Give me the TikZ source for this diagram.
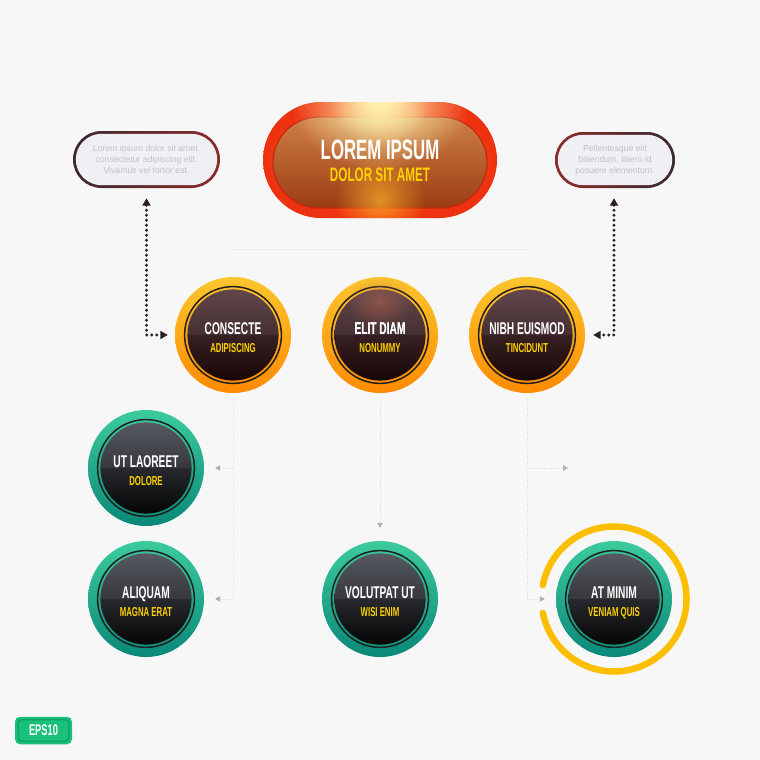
\documentclass[tikz,border=0pt]{standalone}
\usepackage{fontspec}
\setmainfont{Liberation Sans}
\newfontfamily\condfont[FakeStretch=0.6]{Liberation Sans}
\usetikzlibrary{arrows.meta,fadings}
\tikzfading[name=glowfade, inner color=transparent!0, outer color=transparent!100]
\definecolor{bg}{HTML}{F7F7F8}
\definecolor{OrTop}{HTML}{FDC62E}
\definecolor{OrBot}{HTML}{FF8A00}
\definecolor{GrTop}{HTML}{3CCB9D}
\definecolor{GrBot}{HTML}{0A8878}
\definecolor{DkOTop}{HTML}{55393E}
\definecolor{DkOBot}{HTML}{180707}
\definecolor{DkGTop}{HTML}{4A4D56}
\definecolor{DkGBot}{HTML}{050505}
\definecolor{YelTxt}{HTML}{FFD200}
\definecolor{RingY}{HTML}{FBBF00}
\definecolor{FaintC}{HTML}{DADCE2}
\definecolor{TipC}{HTML}{A9B0BD}
\definecolor{TipPink}{HTML}{E3A6B4}
\definecolor{DotC}{HTML}{2A2025}
\definecolor{BoxFill}{HTML}{EFEFF4}
\definecolor{BoxTxt}{HTML}{C2C0CA}
\definecolor{BoxDark}{HTML}{3A2A31}
\definecolor{BoxRed}{HTML}{8C2B2B}
\definecolor{PillRed}{HTML}{EE3210}
\definecolor{PillOr}{HTML}{FF8A1A}
\definecolor{PillInTop}{HTML}{CF8048}
\definecolor{PillInBot}{HTML}{9A3C12}
\definecolor{PillLine}{HTML}{C22A10}
\definecolor{GlowA}{HTML}{FFF4B0}
\definecolor{GlowB}{HTML}{FFB22A}
\definecolor{GlowC}{HTML}{B8654E}
\definecolor{EpsG}{HTML}{19C07A}
\definecolor{EpsD}{HTML}{10A262}

\newcommand\orbbase[9]{%
  \shade[top color=#4, bottom color=#5] (#2,#3) circle (58);
  \draw[line width=1.5, black!88] (#2,#3) circle (48.4);
  \shade[top color=#6, bottom color=#7] (#2,#3) circle (45.6);
  \fill[white, opacity=0.07] (#2-45.6,#3) arc[start angle=180, end angle=360, radius=45.6] -- cycle;
  \node[circle, minimum size=116, inner sep=0] (#1) at (#2,#3) {};
  \node[lineone] at (#2,#3-6.5) {#8};
  \node[linetwo] at (#2,#3+12.8) {#9};
}
\newcommand\orangeorb[5]{\orbbase{#1}{#2}{#3}{OrTop}{OrBot}{DkOTop}{DkOBot}{#4}{#5}}
\newcommand\greenorb[5]{\orbbase{#1}{#2}{#3}{GrTop}{GrBot}{DkGTop}{DkGBot}{#4}{#5}}

\begin{document}
\begin{tikzpicture}[x=1pt,y=-1pt,
  lineone/.style={font=\condfont\bfseries\fontsize{17}{17}\selectfont, text=white, inner sep=0, text depth=0pt},
  linetwo/.style={font=\condfont\bfseries\fontsize{13}{13}\selectfont, text=YelTxt, inner sep=0, text depth=0pt},
  boxtext/.style={font=\fontsize{8.7}{10.8}\selectfont, text=BoxTxt, align=center, inner sep=0},
  faint/.style={draw=FaintC, line width=0.8, dash pattern=on 0.8pt off 1.6pt},
  ftip/.style={-{Triangle[length=5pt,width=5.5pt,color=TipC]}},
  blackdots/.style={draw=DotC, line width=3.1, dash pattern=on 0pt off 5pt, line cap=round,
     {Triangle[length=7.5pt,width=8pt]}-{Triangle[length=7.5pt,width=8pt]}}
]
\useasboundingbox (0,0) rectangle (760,760);
\fill[bg] (0,0) rectangle (760,760);

% ---- top pill ----
\shade[inner color=PillOr, outer color=PillRed, rounded corners=58] (263,102) rectangle (497,218);
\shade[top color=PillInTop, bottom color=PillInBot, rounded corners=45.5] (273,117) rectangle (487,208);
\draw[PillLine, line width=1.3, rounded corners=45.5] (273,117) rectangle (487,208);
\begin{scope}
  \clip[rounded corners=58] (263,102) rectangle (497,218);
  \fill[GlowA, path fading=glowfade] (380,100) ellipse [x radius=90, y radius=70];
  \fill[GlowA, path fading=glowfade, opacity=0.8] (380,104) ellipse [x radius=50, y radius=40];
  \fill[GlowB, path fading=glowfade, opacity=0.7] (380,200) ellipse [x radius=45, y radius=45];
\end{scope}
\node[minimum width=234, minimum height=116, inner sep=0] (top) at (380,160) {};
\node[font=\condfont\bfseries\fontsize{28}{28}\selectfont, text=white, inner sep=0, text depth=0pt] at (380,150) {LOREM IPSUM};
\node[font=\condfont\bfseries\fontsize{19.5}{19.5}\selectfont, text=YelTxt, inner sep=0, text depth=0pt] at (380,175) {DOLOR SIT AMET};

% ---- side boxes ----
\shade[left color=BoxDark, right color=BoxRed, rounded corners=28.5] (73,131) rectangle (220,188);
\fill[BoxFill, rounded corners=25.8] (75.8,133.8) rectangle (217.2,185.2);
\node[boxtext, minimum width=147, minimum height=57] (lbox) at (146.5,159.5)
  {Lorem ipsum dolor sit amet,\\consectetur adipiscing elit.\\Vivamus vel tortor est.};
\shade[left color=BoxRed, right color=BoxDark, rounded corners=28] (555,132) rectangle (675,188);
\fill[BoxFill, rounded corners=25.3] (557.8,134.8) rectangle (672.2,185.2);
\node[boxtext, minimum width=120, minimum height=56] (rbox) at (615,160)
  {Pellentesque elit\\bibendum, libero id\\posuere elementum.};

% ---- orbs ----
\orangeorb{c1}{233}{335}{CONSECTE}{ADIPISCING}
\orangeorb{c2}{380}{335}{ELIT DIAM}{NONUMMY}
\fill[GlowC, path fading=glowfade, opacity=0.55] (380,302) ellipse [x radius=34, y radius=26];
\node[lineone] at (380,328.5) {ELIT DIAM};
\orangeorb{c3}{527}{335}{NIBH EUISMOD}{TINCIDUNT}

\greenorb{g1}{146}{468}{UT LAOREET}{DOLORE}
\greenorb{g2}{146}{599}{ALIQUAM}{MAGNA ERAT}
\greenorb{g3}{380}{599}{VOLUTPAT UT}{WISI ENIM}
\greenorb{g4}{614}{599}{AT MINIM}{VENIAM QUIS}
\draw[RingY, line width=6.5, line cap=round] (614,599) ++(191:72.5) arc[start angle=191, end angle=529, radius=72.5];

% ---- faint connectors ----
\draw[faint] (c1.north |- 0,249) -- (c3.north |- 0,249);
\draw[ftip, draw=none] (c1.north |- 0,258) -- (c1.north |- 0,267);
\draw[-{Triangle[length=5pt,width=5.5pt,color=TipPink]}, draw=none] (c2.north |- 0,258) -- (c2.north |- 0,267);
\draw[ftip, draw=none] (c3.north |- 0,258) -- (c3.north |- 0,267);

\draw[faint] (c1.south) ++(0,5) -- (c1.south |- g2.east);
\draw[faint, ftip, shorten >=11] (c1.south |- g1.east) -- (g1.east);
\draw[faint, ftip, shorten >=11] (c1.south |- g2.east) -- (g2.east);
\draw[faint, ftip, shorten <=5, shorten >=13] (c2.south) -- (g3.north);
\coordinate (nibhtip) at (568,468);
\draw[faint] (c3.south) ++(0,5) -- (c3.south |- g4.west);
\draw[faint, ftip] (c3.south |- nibhtip) -- (nibhtip);
\draw[faint, ftip, shorten >=11] (c3.south |- g4.west) -- (g4.west);

% ---- black dotted arrows ----
\draw[blackdots, shorten <=10, shorten >=7] (lbox.south) |- (c1.west);
\draw[blackdots, shorten <=10, shorten >=8] (rbox.south -| 614,0) |- (c3.east);

% ---- EPS badge ----
\node[fill=EpsG, rounded corners=5, minimum width=57, minimum height=27.5, inner sep=0] (eps) at (43.5,730.5) {};
\draw[EpsD, line width=1.4, rounded corners=3.5] (18.2,719.7) rectangle (68.8,741.3);
\node[font=\condfont\bfseries\fontsize{15.5}{15.5}\selectfont, text=white, inner sep=0, text depth=0pt] at (eps) {EPS10};
\end{tikzpicture}
\end{document}
